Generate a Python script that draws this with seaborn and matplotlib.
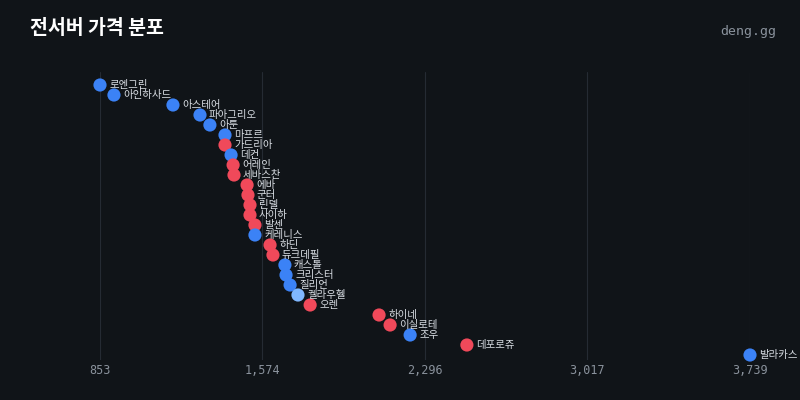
import matplotlib
matplotlib.use("Agg")
import matplotlib.pyplot as plt
import seaborn as sns
import pandas as pd

names = ["로엔그린","아인하사드","아스테어","파아그리오","아툰","마프르","가드리아","데컨","어레인","세바스찬",
         "에바","군터","린델","사이하","발센","케레니스","하딘","듀크데필","캐스톨","크리스터","질리언","켈라우헬",
         "오렌","하이네","이실로테","조우","데포로쥬","발라카스"]
prices = [853,915,1177,1297,1341,1408,1408,1435,1444,1448,1506,1510,1519,1519,1541,1541,1608,1621,1674,1679,
          1697,1732,1786,2092,2141,2230,2482,3739]
groups = ["b","b","b","b","b","b","r","b","r","r","r","r","r","r","r","b","r","r","b","b","b","l","r","r","r","b","r","b"]
ticks = [853,1574,2296,3017,3739]

df = pd.DataFrame({"name":names,"price":prices,"g":groups,"rank":range(len(names))})
bg = "#101418"
sns.set_theme(style="dark")
plt.rcParams['font.family'] = ['Noto Sans CJK KR','DejaVu Sans']
fig = plt.figure(figsize=(8,4), dpi=100, facecolor=bg)
ax = fig.add_axes([0.125, 0.1, 0.8125, 0.72], facecolor=bg)
pal = {"b":"#3b82f6","r":"#f0495a","l":"#80b8ff"}
sns.scatterplot(data=df, x="price", y="rank", hue="g", palette=pal, s=90, edgecolor="none", legend=False, ax=ax, zorder=3)
for n,p,r in zip(names,prices,range(len(names))):
    ax.text(p+40, r, n, color="#d8dde3", fontsize=7.5, va="center", zorder=4)
ax.set_xlim(853, 3739)
ax.set_ylim(27.5, -1.3)
ax.set_xticks(ticks)
ax.set_xticklabels([f"{t:,}" for t in ticks], color="#8a929c", fontsize=8.5, family="DejaVu Sans Mono")
ax.set_yticks([])
ax.set_xlabel(""); ax.set_ylabel("")
ax.grid(axis="x", color="#252b33", linewidth=0.8)
ax.grid(axis="y", visible=False)
for s in ax.spines.values(): s.set_visible(False)
ax.tick_params(axis="x", length=0, pad=3)
for c in ax.collections: c.set_clip_on(False)
fig.text(0.037, 0.93, "전서버 가격 분포", color="white", fontsize=14, fontweight="bold", va="center")
fig.text(0.97, 0.922, "deng.gg", color="#8a929c", fontsize=9.5, ha="right", va="center", family="DejaVu Sans Mono")
fig.savefig("out.png", facecolor=bg)
